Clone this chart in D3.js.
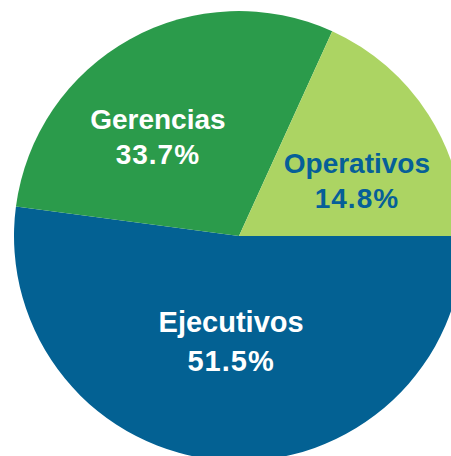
<!DOCTYPE html>
<html>
<head>
<meta charset="utf-8">
<script src="https://cdn.jsdelivr.net/npm/d3@7"></script>
<style>
  html, body { margin: 0; padding: 0; background: #fff; overflow: hidden; }
</style>
</head>
<body>
<svg id="chart"></svg>
<script>
const width = 451; //px
const height = 456; //px

// slices as drawn (share of the circle) and the printed labels
const categories = ["Ejecutivos", "Gerencias", "Operativos"];
const shares = [52.1, 29.7, 18.2];
const pctLabels = ["51.5%", "33.7%", "14.8%"];

const colors = ["#036193", "#2b9b4b", "#acd463"];
const textColors = ["#ffffff", "#ffffff", "#065f98"];
const fontSizes = [29, 28, 28];
const lineGap = [39, 35, 35];
// small nudges off the label centroid
const nudge = [[0, -4], [-23, 15], [17, 19]];

const cx = 239, cy = 236, radius = 225, labelRadius = 120;

const svg = d3.select("#chart")
  .attr("width", width)
  .attr("height", height);

const g = svg.append("g").attr("transform", `translate(${cx},${cy})`);

const data = categories.map((c, i) => ({ name: c, value: shares[i], label: pctLabels[i], i: i }));

// Ejecutivos starts at 3 o'clock and runs clockwise
const pie = d3.pie()
  .value(d => d.value)
  .sort(null)
  .startAngle(Math.PI / 2)
  .endAngle(Math.PI / 2 + 2 * Math.PI);

const arcs = pie(data);

const arc = d3.arc().innerRadius(0).outerRadius(radius);
const labelArc = d3.arc().innerRadius(labelRadius).outerRadius(labelRadius);

g.selectAll("path")
  .data(arcs)
  .join("path")
  .attr("d", arc)
  .attr("fill", d => colors[d.data.i]);

const labels = g.selectAll("text.lbl")
  .data(arcs)
  .join("text")
  .attr("class", "lbl")
  .attr("transform", d => {
    const [x, y] = labelArc.centroid(d);
    const n = nudge[d.data.i];
    return `translate(${x + n[0]},${y + n[1]})`;
  })
  .attr("text-anchor", "middle")
  .attr("font-family", "'Liberation Sans', Arial, sans-serif")
  .attr("font-weight", "bold")
  .attr("font-size", d => fontSizes[d.data.i])
  .attr("fill", d => textColors[d.data.i]);

labels.append("tspan")
  .attr("x", 0)
  .attr("y", d => -lineGap[d.data.i] / 2)
  .text(d => d.data.name);

labels.append("tspan")
  .attr("x", 0)
  .attr("y", d => lineGap[d.data.i] / 2)
  .attr("letter-spacing", 1)
  .text(d => d.data.label);
</script>
</body>
</html>
